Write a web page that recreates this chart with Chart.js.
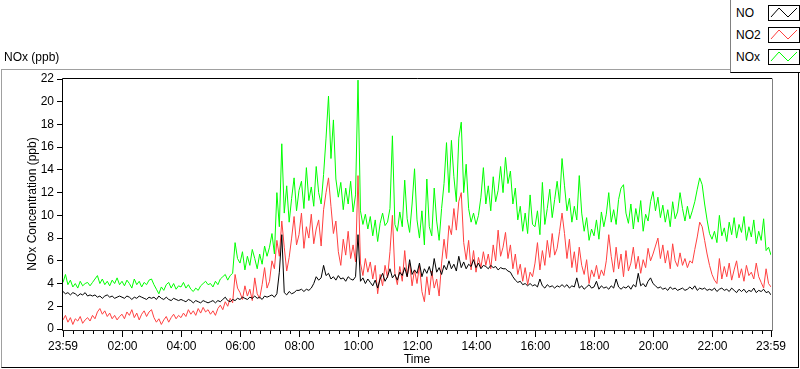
<!DOCTYPE html>
<html>
<head>
<meta charset="utf-8">
<script src="https://cdn.jsdelivr.net/npm/chart.js@4.4.1/dist/chart.umd.min.js"></script>
<style>
  body { margin: 0; background: #fff; font-family: "Liberation Sans", Arial, sans-serif; }
  #wrap { position: relative; width: 800px; height: 369px; overflow: hidden; }
  #frame { position: absolute; left: 1px; top: 69px; width: 796px; height: 297px;
           border-top: 1px solid #a0a0a0; border-left: 1px solid #a0a0a0;
           border-right: 1px solid #000; border-bottom: 1px solid #000; }
  #chart { position: absolute; left: 0; top: 0; }
  .unit { position: absolute; left: 4px; top: 50px; font-size: 12px; color: #000; }
  .legend { position: absolute; left: 730px; top: -1px; width: 70px; height: 72px; background: #fff;
            border-left: 1px solid #808080; border-bottom: 1px solid #000; border-top: 1px solid #000; }
  .item { position: absolute; left: 0; width: 70px; height: 17px; font-size: 12px; }
  .item span { position: absolute; left: 5px; top: 1px; }
  .item svg { position: absolute; left: 37px; top: 0; }
</style>
</head>
<body>
<div id="wrap">
  <div id="frame"></div>
  <canvas id="chart" width="800" height="369"></canvas>
  <div class="unit">NOx (ppb)</div>
  <div class="legend" id="legend"></div>
</div>
<script>
// time axis: minutes after 23:59, one reading every 5 minutes
var stepMinutes = 5;
var tickMinutes = [0, 121, 241, 361, 481, 601, 721, 841, 961, 1081, 1201, 1321, 1440];
var tickLabels = ['23:59', '02:00', '04:00', '06:00', '08:00', '10:00', '12:00', '14:00', '16:00', '18:00', '20:00', '22:00', '23:59'];

var seriesNames = ['NO', 'NO2', 'NOx'];
var seriesColors = ['#000000', '#ff4040', '#00ff00'];

var noValues = [
  3.3, 3.1, 3.2, 3.0, 3.2, 3.1, 2.9, 3.1, 3.0, 3.2, 2.9, 3.0,
  2.9, 3.0, 2.8, 2.9, 2.7, 2.9, 3.0, 2.8, 2.9, 2.7, 2.8, 2.9,
  2.8, 2.7, 2.9, 2.8, 2.6, 2.8, 2.7, 2.9, 2.8, 2.7, 2.6, 2.8,
  2.7, 2.8, 2.6, 2.9, 2.7, 2.6, 2.8, 2.6, 2.5, 2.7, 2.6, 2.5,
  2.6, 2.5, 2.4, 2.6, 2.5, 2.3, 2.5, 2.4, 2.3, 2.5, 2.4, 2.3,
  2.4, 2.5, 2.3, 2.5, 2.4, 2.6, 2.8, 2.5, 2.4, 2.6, 2.5, 2.7,
  2.6, 2.8, 2.7, 2.6, 2.8, 2.7, 2.9, 2.7, 2.8, 2.6, 2.9, 2.8,
  2.9, 3.0, 2.8, 3.1, 5.0, 8.3, 3.2, 3.0, 3.3, 3.1, 3.2, 3.4,
  3.4, 3.5, 3.3, 3.5, 3.4, 3.6, 4.0, 4.6, 4.3, 4.5, 5.6, 4.7,
  4.9, 4.4, 4.6, 4.3, 4.7, 4.4, 4.5, 4.2, 4.6, 4.4, 4.3, 4.6,
  8.3, 4.2, 4.5, 4.0, 4.4, 4.1, 3.8, 4.3, 3.6, 4.4, 4.9, 4.2,
  4.6, 5.3, 4.5, 4.8, 4.3, 5.0, 4.7, 5.4, 4.6, 6.1, 4.8, 5.2,
  4.9, 5.8, 4.6, 5.3, 4.9, 5.5, 4.7, 6.2, 5.0, 5.4, 4.8, 5.6,
  5.2, 6.0, 5.3, 5.7, 5.1, 6.4, 5.4, 5.9, 5.3, 5.7, 5.5, 6.1,
  5.4, 5.8, 5.3, 5.6, 5.5, 5.3, 5.6, 5.4, 5.5, 5.2, 5.4, 5.3,
  5.3, 5.1, 5.0, 4.6, 4.3, 4.1, 4.2, 3.9, 4.0, 3.8, 4.0, 3.8,
  3.9, 3.7, 4.4, 3.8, 3.6, 3.9, 3.7, 3.8, 3.6, 3.8, 3.7, 3.9,
  3.7, 3.9, 3.6, 3.8, 3.7, 4.5, 3.6, 3.8, 3.5, 3.7, 3.9, 3.6,
  3.7, 4.2, 3.5, 3.8, 3.6, 3.7, 3.5, 3.8, 3.6, 4.4, 3.7, 3.5,
  3.7, 3.6, 3.8, 3.5, 3.9, 3.7, 4.9, 3.8, 4.0, 3.7, 4.2, 4.5,
  4.0, 3.8, 3.6, 3.7, 3.5, 3.6, 3.4, 3.7, 3.5, 3.6, 3.4, 3.5,
  3.6, 3.4, 3.5, 3.7, 3.5, 3.8, 3.4, 3.6, 3.5, 3.6, 3.4, 3.5,
  3.4, 3.6, 3.3, 3.5, 3.6, 3.4, 3.5, 3.3, 3.6, 3.4, 3.2, 3.5,
  3.3, 3.5, 3.2, 3.4, 3.3, 3.6, 3.2, 3.4, 3.3, 3.5, 3.2, 3.3,
  3.0
];

var no2Values = [
  0.8, 1.2, 0.6, 1.0, 0.4, 0.9, 0.7, 1.1, 0.5, 0.8, 1.0, 0.7,
  1.2, 0.9, 1.5, 1.8, 1.3, 1.6, 1.1, 1.4, 0.9, 1.2, 0.8, 1.1,
  1.3, 0.9, 1.5, 1.2, 1.7, 1.0, 1.4, 0.8, 1.3, 1.6, 1.1, 1.5,
  1.7, 1.0, 0.6, 0.9, 0.4, 0.8, 1.1, 0.6, 1.0, 1.3, 0.9, 1.2,
  1.0, 1.4, 1.1, 1.7, 1.3, 1.6, 1.2, 1.8, 1.4, 1.9, 1.5, 1.7,
  1.3, 1.6, 1.2, 1.8, 2.1, 1.7, 2.4, 2.0, 2.7, 2.3, 4.8, 3.6,
  3.2, 2.6, 3.8, 2.9, 3.5, 2.5, 4.5, 3.1, 2.7, 3.9, 5.4, 3.6,
  4.2, 6.0, 5.3, 7.8, 6.4, 9.5, 7.2, 5.1, 6.3, 8.0, 9.9, 7.4,
  8.3, 10.2, 7.1, 9.0, 8.0, 10.1, 7.5, 8.8, 9.6, 7.3, 10.5, 12.0,
  13.3, 10.8, 8.4, 9.5, 6.8, 5.6, 7.9, 6.5, 8.6, 6.2, 7.4, 5.9,
  13.5, 5.8, 4.7, 6.2, 5.0, 5.9, 4.4, 5.6, 3.1, 4.8, 3.8, 5.6,
  4.5, 6.8, 10.0, 4.9, 3.9, 5.5, 4.2, 6.9, 4.6, 5.8, 3.8, 5.2,
  4.0, 5.6, 3.3, 2.4, 4.6, 3.0, 5.1, 3.6, 4.4, 2.9, 5.8, 7.9,
  6.2, 9.1, 8.3, 10.6, 8.7, 11.2, 12.0, 7.6, 6.1, 7.8, 5.2, 6.9,
  5.0, 6.3, 5.4, 6.8, 5.6, 6.6, 5.3, 7.4, 6.0, 8.7, 6.4, 7.2,
  8.5, 6.2, 7.4, 5.3, 6.6, 4.8, 5.7, 4.2, 5.4, 3.9, 5.0, 4.6,
  5.8, 7.6, 5.2, 6.9, 5.6, 7.8, 6.3, 8.4, 6.5, 7.1, 8.6, 10.2,
  8.4, 6.2, 7.9, 5.4, 6.8, 5.0, 7.2, 5.6, 4.8, 6.1, 4.0, 5.2,
  4.6, 5.6, 4.4, 5.2, 4.7, 6.0, 8.3, 6.4, 5.0, 7.2, 5.3, 6.6,
  4.6, 6.9, 5.1, 5.8, 7.2, 5.3, 6.4, 4.9, 6.1, 5.4, 7.1, 6.0,
  6.6, 7.3, 8.0, 6.2, 7.4, 5.8, 6.9, 5.3, 7.5, 6.0, 5.5, 6.7,
  5.6, 6.2, 5.4, 6.0, 5.8, 7.0, 8.1, 9.4, 9.0, 7.8, 6.6, 5.6,
  4.8, 4.3, 4.0, 6.2, 4.4, 5.5, 4.6, 5.8, 4.3, 5.2, 6.0, 4.5,
  5.3, 4.2, 5.6, 4.7, 5.0, 4.4, 5.8, 4.6, 4.1, 3.6, 5.3, 4.0,
  3.7
];

var noxValues = [
  4.1, 4.8, 3.9, 4.3, 3.7, 4.0, 3.6, 4.2, 3.8, 4.0, 4.1, 3.8,
  4.1, 4.4, 4.7, 4.0, 4.4, 3.9, 4.2, 3.8, 4.3, 4.0, 4.5, 3.9,
  4.2, 3.8, 4.3, 4.0, 3.6, 4.4, 3.9, 4.2, 3.7, 4.1, 3.9, 4.3,
  4.4, 3.9, 3.5, 3.1, 3.7, 3.4, 3.9, 4.1, 3.6, 4.0, 3.5, 3.8,
  3.7, 4.1, 3.6, 3.9, 3.5, 3.3, 3.6, 3.4, 3.8, 4.0, 4.2, 3.9,
  4.0, 3.7, 4.2, 3.9, 4.4, 4.6, 4.8, 4.3, 4.7, 4.9, 7.6, 6.2,
  5.8, 6.8, 5.2, 6.4, 5.6, 7.0, 6.2, 5.3, 6.6, 5.7, 7.3, 6.4,
  7.2, 8.4, 6.6, 12.0, 9.0, 16.3, 10.2, 12.6, 9.4, 11.5, 13.3, 10.4,
  12.2, 13.0, 10.6, 14.2, 11.3, 12.5, 10.8, 14.3, 12.0, 11.0, 13.6, 16.8,
  20.5, 15.0, 18.4, 13.2, 11.6, 12.9, 10.5, 12.4, 11.0, 13.0, 10.3, 11.8,
  21.9, 10.4, 9.2, 10.1, 8.8, 9.9, 8.2, 9.6, 7.7, 9.3, 10.2, 9.1,
  9.4, 10.6, 17.0, 9.2, 8.6, 10.3, 9.0, 13.1, 9.7, 8.5, 11.0, 14.1,
  9.6, 8.0, 10.4, 7.4, 13.2, 9.0, 8.2, 12.4, 9.5, 7.8, 10.6, 12.8,
  16.4, 12.0, 16.6, 13.4, 11.2, 16.8, 18.2, 12.0, 14.5, 10.6, 9.4, 10.2,
  9.2, 10.0, 11.6, 14.2, 11.0, 12.6, 10.4, 13.4, 11.2, 12.2, 14.3, 12.0,
  15.1, 12.8, 13.9, 11.0, 12.4, 9.6, 10.8, 8.6, 10.2, 8.4, 11.8, 9.2,
  9.0, 10.4, 8.3, 12.9, 9.2, 10.6, 12.3, 9.8, 11.4, 13.0, 11.1, 15.0,
  12.6, 10.4, 11.5, 9.4, 10.8, 9.6, 13.5, 10.2, 8.6, 9.8, 7.8, 8.8,
  8.2, 9.6, 7.9, 10.3, 9.0, 10.1, 12.0, 9.4, 10.5, 9.2, 11.4, 12.4,
  12.7, 10.2, 9.3, 11.0, 8.8, 10.6, 9.4, 11.3, 8.6, 10.1, 9.5, 11.2,
  12.1, 10.4, 11.6, 9.8, 10.9, 9.4, 10.5, 9.0, 11.2, 9.7, 10.3, 12.0,
  10.6, 9.5, 10.8, 9.7, 10.4, 11.2, 12.3, 13.3, 12.7, 11.0, 9.6, 8.4,
  7.9, 8.6, 7.6, 10.0, 8.2, 8.9, 7.7, 9.4, 8.3, 9.8, 8.0, 9.2,
  8.5, 9.9, 7.8, 9.0, 8.1, 9.6, 7.5, 8.6, 7.8, 9.7, 6.9, 7.2,
  6.5
];

var allValues = [noValues, no2Values, noxValues];
var font12 = { family: '"Liberation Sans", Arial, sans-serif', size: 12 };

function toPoints(values) {
  return values.map(function (v, i) { return { x: i * stepMinutes, y: v }; });
}

// legend box, top right
var legend = document.getElementById('legend');
seriesNames.forEach(function (name, i) {
  var item = document.createElement('div');
  item.className = 'item';
  item.style.top = (5 + i * 22) + 'px';
  item.innerHTML = '<span>' + name + '</span>' +
    '<svg width="32" height="16"><rect x="0.5" y="0.5" width="31" height="15" fill="#fff" stroke="#000"/>' +
    '<polyline points="3,12 11,3 20,12 29,3" fill="none" stroke="' + seriesColors[i] + '" stroke-width="1"/></svg>';
  legend.appendChild(item);
});

// plot frame + minor/major ticks on the time axis
var framePlugin = {
  id: 'frame',
  afterDraw: function (chart) {
    var ctx = chart.ctx, a = chart.chartArea, xs = chart.scales.x;
    ctx.save();
    ctx.lineWidth = 1;
    ctx.strokeStyle = '#000';
    ctx.beginPath();
    ctx.moveTo(62.5, a.bottom + 1);
    ctx.lineTo(62.5, a.top - 0.5);
    ctx.lineTo(a.right + 1, a.top - 0.5);
    ctx.stroke();
    ctx.strokeStyle = '#808080';
    ctx.beginPath();
    ctx.moveTo(a.right + 1.5, a.top - 0.5);
    ctx.lineTo(a.right + 1.5, a.bottom + 1.5);
    ctx.stroke();
    ctx.strokeStyle = '#202020';
    ctx.beginPath();
    ctx.moveTo(62, a.bottom + 1.5);
    ctx.lineTo(a.right + 1.5, a.bottom + 1.5);
    ctx.stroke();
    ctx.strokeStyle = '#000';
    ctx.beginPath();
    for (var m = 1; m < 1440; m += 20) {
      var px = Math.round(xs.getPixelForValue(m)) + 0.5;
      ctx.moveTo(px, a.bottom + 2);
      ctx.lineTo(px, a.bottom + 5);
    }
    tickMinutes.forEach(function (t) {
      var px = Math.round(xs.getPixelForValue(t)) + 0.5;
      ctx.moveTo(px, a.bottom + 2);
      ctx.lineTo(px, a.bottom + 8);
    });
    ctx.stroke();
    ctx.restore();
  }
};

new Chart(document.getElementById('chart'), {
  type: 'line',
  data: {
    datasets: seriesNames.map(function (name, i) {
      return {
        label: name,
        data: toPoints(allValues[i]),
        borderColor: seriesColors[i],
        backgroundColor: seriesColors[i],
        borderWidth: 1,
        pointRadius: 0,
        tension: 0,
        fill: false
      };
    })
  },
  options: {
    responsive: false,
    animation: false,
    events: [],
    layout: { padding: { left: 0, top: 79, right: 29, bottom: 0 } },
    plugins: { legend: { display: false }, tooltip: { enabled: false } },
    scales: {
      x: {
        type: 'linear',
        min: 0,
        max: 1440,
        afterBuildTicks: function (s) { s.ticks = tickMinutes.map(function (v) { return { value: v }; }); },
        afterFit: function (s) { s.height = 40; },
        ticks: {
          autoSkip: false,
          maxRotation: 0,
          padding: 10,
          color: '#000',
          font: font12,
          callback: function (v) { return tickLabels[tickMinutes.indexOf(v)]; }
        },
        grid: { display: false, drawTicks: false },
        border: { display: false },
        title: { display: true, text: 'Time', color: '#000', font: font12, padding: { top: 0, bottom: 2 } }
      },
      y: {
        min: 0,
        max: 22,
        afterFit: function (s) { s.width = 63; },
        ticks: { stepSize: 2, padding: 3, color: '#000', font: font12 },
        grid: { drawOnChartArea: false, tickLength: 6, color: '#000' },
        border: { display: false },
        title: { display: true, text: 'NOx Concentration (ppb)', color: '#000', font: font12, padding: { top: 25, bottom: 0 } }
      }
    }
  },
  plugins: [framePlugin]
});
</script>
</body>
</html>
